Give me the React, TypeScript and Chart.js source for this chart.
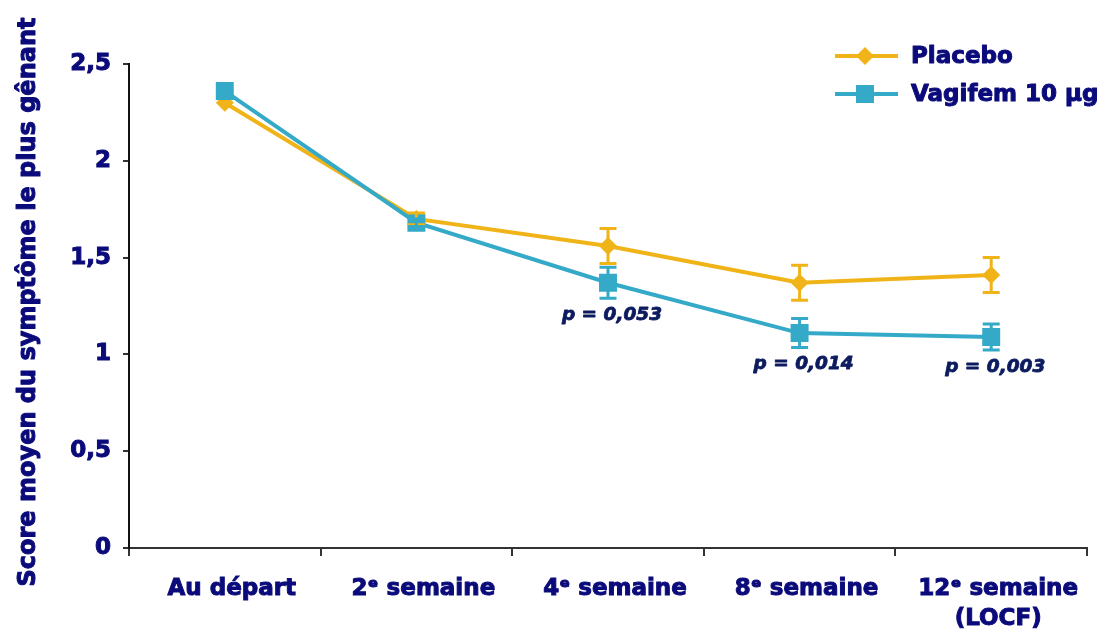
import React, { useEffect, useRef } from "react";
import { Chart, registerables } from "chart.js";

Chart.register(...registerables);

const categories: (string | string[])[] = [
  "Au départ",
  "2ᵉ semaine",
  "4ᵉ semaine",
  "8ᵉ semaine",
  ["12ᵉ semaine", "(LOCF)"],
];
const placeboValues = [2.3, 1.7, 1.56, 1.37, 1.41];
const placeboErrors = [0, 0.03, 0.09, 0.09, 0.09];
const vagifemValues = [2.36, 1.68, 1.37, 1.11, 1.09];
const vagifemErrors = [0, 0.02, 0.08, 0.075, 0.067];
const pLabels = ["", "", "p = 0,053", "p = 0,014", "p = 0,003"];
const yTicks = [0, 0.5, 1, 1.5, 2, 2.5];
const seriesNames = ["Placebo", "Vagifem 10 µg"];

const ORANGE = "#F0B418";
const BLUE = "#34AAC8";
const NAVY = "#0A0A7A";
const PNAVY = "#0C1A5E";
const FONT = "'DejaVu Sans', Verdana, sans-serif";

const drawHeavyText = (ctx: any, text: string, x: number, y: number, color: string, w: number) => {
  ctx.fillStyle = color;
  ctx.strokeStyle = color;
  ctx.lineWidth = w;
  ctx.lineJoin = "round";
  ctx.strokeText(text, x, y);
  ctx.fillText(text, x, y);
};

const errorBarPlugin = {
  id: "errorBars",
  afterDatasetsDraw(chart: any) {
    const ctx = chart.ctx;
    const yScale = chart.scales.y;
    chart.data.datasets.forEach((ds: any, di: number) => {
      const meta = chart.getDatasetMeta(di);
      const errs: number[] = ds.errors || [];
      ctx.save();
      ctx.strokeStyle = ds.borderColor;
      ctx.lineWidth = 3;
      meta.data.forEach((pt: any, i: number) => {
        const e = errs[i] || 0;
        if (!e) return;
        const v = ds.data[i];
        const yTop = yScale.getPixelForValue(v + e);
        const yBot = yScale.getPixelForValue(v - e);
        const x = pt.x;
        ctx.beginPath();
        ctx.moveTo(x, yTop);
        ctx.lineTo(x, yBot);
        ctx.moveTo(x - 8.5, yTop);
        ctx.lineTo(x + 8.5, yTop);
        ctx.moveTo(x - 8.5, yBot);
        ctx.lineTo(x + 8.5, yBot);
        ctx.stroke();
      });
      ctx.restore();
    });
  },
  afterDraw(chart: any) {
    const ctx = chart.ctx;
    const yScale = chart.scales.y;
    // y axis title
    ctx.save();
    ctx.translate(29, 302);
    ctx.rotate(-Math.PI / 2);
    ctx.font = `bold 24px ${FONT}`;
    ctx.textAlign = "center";
    ctx.textBaseline = "middle";
    drawHeavyText(ctx, "Score moyen du symptôme le plus gênant", 0, 0, NAVY, 1);
    ctx.restore();

    // p-value labels under Vagifem points
    const vIdx = chart.data.datasets.findIndex((d: any) => d.label === seriesNames[1]);
    const vMeta = chart.getDatasetMeta(vIdx);
    ctx.save();
    ctx.font = `italic bold 18.5px ${FONT}`;
    ctx.textAlign = "center";
    ctx.textBaseline = "middle";
    pLabels.forEach((lab, i) => {
      if (!lab) return;
      const pt = vMeta.data[i];
      const y = yScale.getPixelForValue(vagifemValues[i] - vagifemErrors[i]) + 17;
      drawHeavyText(ctx, lab, pt.x + 4, y, PNAVY, 0.8);
    });
    ctx.restore();

    // legend
    ctx.save();
    const items = [
      { name: seriesNames[0], color: ORANGE, style: "diamond", y: 56 },
      { name: seriesNames[1], color: BLUE, style: "square", y: 94 },
    ];
    items.forEach((it) => {
      ctx.strokeStyle = it.color;
      ctx.fillStyle = it.color;
      ctx.lineWidth = 4;
      ctx.beginPath();
      ctx.moveTo(835, it.y);
      ctx.lineTo(898, it.y);
      ctx.stroke();
      ctx.beginPath();
      if (it.style === "diamond") {
        ctx.moveTo(865, it.y - 9);
        ctx.lineTo(874, it.y);
        ctx.lineTo(865, it.y + 9);
        ctx.lineTo(856, it.y);
        ctx.closePath();
      } else {
        ctx.rect(856, it.y - 9, 18, 18);
      }
      ctx.fill();
      ctx.font = `bold 23px ${FONT}`;
      ctx.textAlign = "left";
      ctx.textBaseline = "middle";
      drawHeavyText(ctx, it.name, 911, it.y + 1, NAVY, 1);
    });
    ctx.restore();
  },
};

export default function App() {
  const ref = useRef<HTMLCanvasElement>(null);
  useEffect(() => {
    if (!ref.current) return;
    const chart = new Chart(ref.current, {
      type: "line",
      data: {
        labels: categories,
        datasets: [
          {
            label: seriesNames[0],
            data: placeboValues,
            errors: placeboErrors,
            borderColor: ORANGE,
            backgroundColor: ORANGE,
            borderWidth: 4,
            pointStyle: "rectRot",
            pointRadius: 9,
            pointHoverRadius: 9,
            pointBorderWidth: 0,
            order: 2,
          } as any,
          {
            label: seriesNames[1],
            data: vagifemValues,
            errors: vagifemErrors,
            borderColor: BLUE,
            backgroundColor: BLUE,
            borderWidth: 4,
            pointStyle: "rect",
            pointRadius: 12.7,
            pointHoverRadius: 12.7,
            pointBorderWidth: 0,
            order: 1,
          } as any,
        ],
      },
      options: {
        animation: false,
        responsive: true,
        maintainAspectRatio: false,
        layout: { padding: { top: 64, right: 21, bottom: 0, left: 0 } },
        plugins: { legend: { display: false }, tooltip: { enabled: false } },
        scales: {
          x: {
            type: "category",
            offset: true,
            grid: {
              offset: true,
              drawOnChartArea: false,
              drawTicks: true,
              tickLength: 8,
              color: "#333",
              lineWidth: 2,
            },
            border: { display: true, color: "#333", width: 2 },
            ticks: {
              color: NAVY,
              textStrokeColor: NAVY,
              textStrokeWidth: 1,
              font: { family: FONT, size: 23, weight: "bold", lineHeight: 1.3 },
              padding: 18,
              labelOffset: 7,
              maxRotation: 0,
              autoSkip: false,
            },
            afterFit(scale: any) {
              scale.height = 85;
              scale.paddingLeft = 0;
              scale.paddingRight = 0;
            },
          },
          y: {
            min: 0,
            max: 2.5,
            afterBuildTicks(scale: any) {
              scale.ticks = yTicks.map((v) => ({ value: v }));
            },
            grid: {
              drawOnChartArea: false,
              drawTicks: true,
              tickLength: 6,
              color: "#333",
              lineWidth: 2,
            },
            border: { display: true, color: "#111", width: 2 },
            ticks: {
              color: NAVY,
              textStrokeColor: NAVY,
              textStrokeWidth: 1,
              font: { family: FONT, size: 23, weight: "bold" },
              padding: 12,
              callback: (v: any) => String(v).replace(".", ","),
            },
            afterFit(scale: any) {
              scale.width = 129;
              scale.paddingTop = 0;
              scale.paddingBottom = 0;
            },
          },
        },
      } as any,
      plugins: [errorBarPlugin],
    });
    return () => chart.destroy();
  }, []);
  return (
    <div style={{ position: "fixed", left: 0, top: 0, width: 1108, height: 633, background: "#fff" }}>
      <canvas ref={ref} />
    </div>
  );
}
